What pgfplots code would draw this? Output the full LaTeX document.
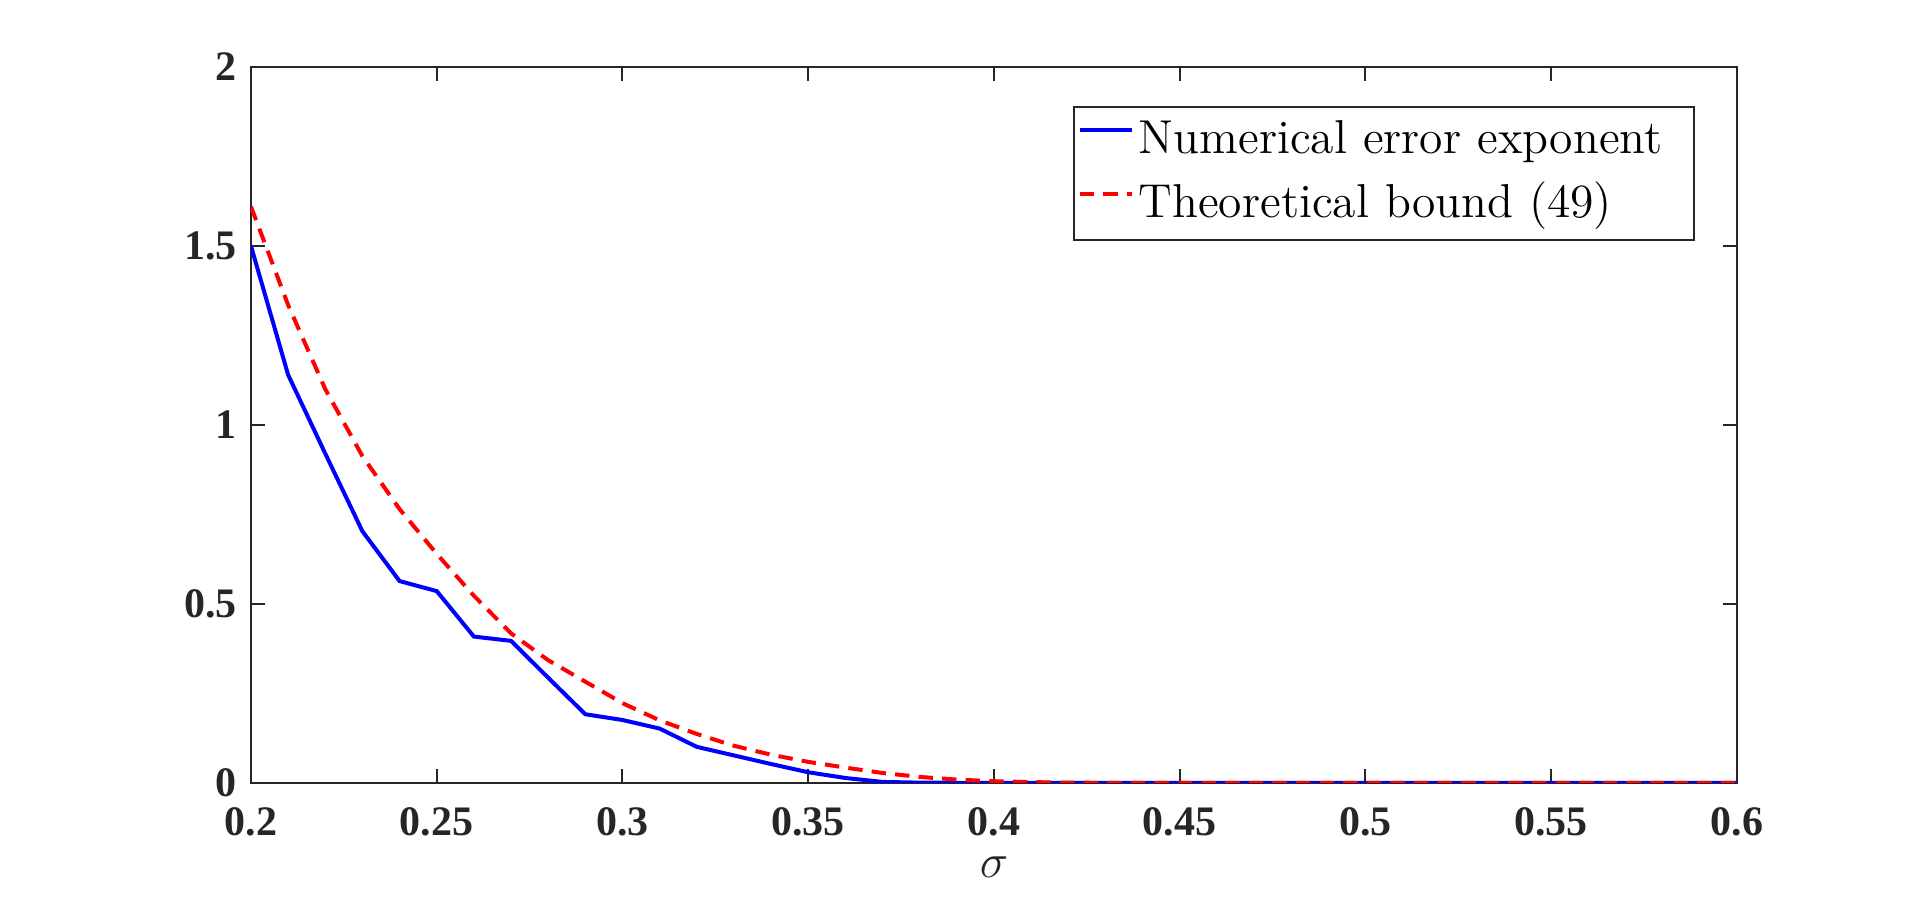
\documentclass[border=0pt]{standalone}
\usepackage{fontspec}
\usepackage{pgfplots}
\usepackage{pgfplotstable}
\pgfplotsset{compat=1.18}
\newfontfamily\tnr{Liberation Serif}

\pgfplotstableread{
x y
0.20 1.500
0.21 1.140
0.22 0.920
0.23 0.703
0.24 0.564
0.25 0.536
0.26 0.409
0.27 0.397
0.28 0.294
0.29 0.192
0.30 0.176
0.31 0.152
0.32 0.101
0.33 0.077
0.34 0.053
0.35 0.030
0.36 0.014
0.37 0.003
0.38 0.001
0.39 0.0005
0.40 0.0002
0.41 0
0.45 0
0.50 0
0.55 0
0.60 0
}\numdata

\pgfplotstableread{
x y
0.20 1.610
0.21 1.335
0.22 1.100
0.23 0.913
0.24 0.765
0.25 0.640
0.26 0.523
0.27 0.418
0.28 0.343
0.29 0.283
0.30 0.223
0.31 0.175
0.32 0.137
0.33 0.104
0.34 0.079
0.35 0.059
0.36 0.043
0.37 0.028
0.38 0.017
0.39 0.0095
0.40 0.005
0.41 0.0025
0.42 0.0011
0.43 0.0004
0.44 0.0001
0.45 0
0.50 0
0.55 0
0.60 0
}\bounddata

\begin{document}
\begin{tikzpicture}
\path[use as bounding box] (-62.75pt,-29.25pt) rectangle (417.25pt,195.75pt);
\begin{axis}[
  at={(0pt,0pt)}, anchor=south west,
  scale only axis, width=371.5pt, height=179pt,
  xmin=0.2, xmax=0.6, ymin=0, ymax=2,
  xtick={0.2,0.25,0.3,0.35,0.4,0.45,0.5,0.55,0.6},
  ytick={0,0.5,1,1.5,2},
  tick align=inside, tick pos=both,
  major tick length=3.5pt,
  axis line style={black!85, line width=0.5pt},
  tick style={black!85, line width=0.5pt},
  ticklabel style={font=\tnr\bfseries\fontsize{10.5}{12}\selectfont, text=black!85},
  xticklabel style={yshift=-2.5pt},
  /pgf/number format/fixed,
  /pgf/number format/precision=2,
  /pgf/number format/assume math mode=true,
  xlabel={\fontsize{12}{14}\selectfont$\sigma$},
  xlabel style={at={(axis description cs:0.5,0)}, anchor=center, yshift=-21pt, text=black!85},
  legend style={at={(axis description cs:0.9717,0.9455)}, anchor=north east,
    draw=black!85, line width=0.5pt, fill=white,
    inner xsep=0.95pt, inner ysep=0.6pt,
    font=\fontsize{11.9}{14}\selectfont,
    nodes={inner xsep=1.25pt, inner ysep=2pt, text height=9pt, text depth=3pt, text width=136.6pt, align=left},
    row sep=0pt},
  legend cell align=left,
  legend image code/.code={\draw[#1] (0pt,2.75pt) -- (13pt,2.75pt);},
]
\addplot[blue, line width=1pt, no marks] table[x=x,y=y] {\numdata};
\addlegendentry{Numerical error exponent}
\addplot[red, line width=1pt, no marks, dash pattern=on 3.6pt off 2.3pt] table[x=x,y=y] {\bounddata};
\addlegendentry{Theoretical bound (49)}
\end{axis}
\end{tikzpicture}
\end{document}
